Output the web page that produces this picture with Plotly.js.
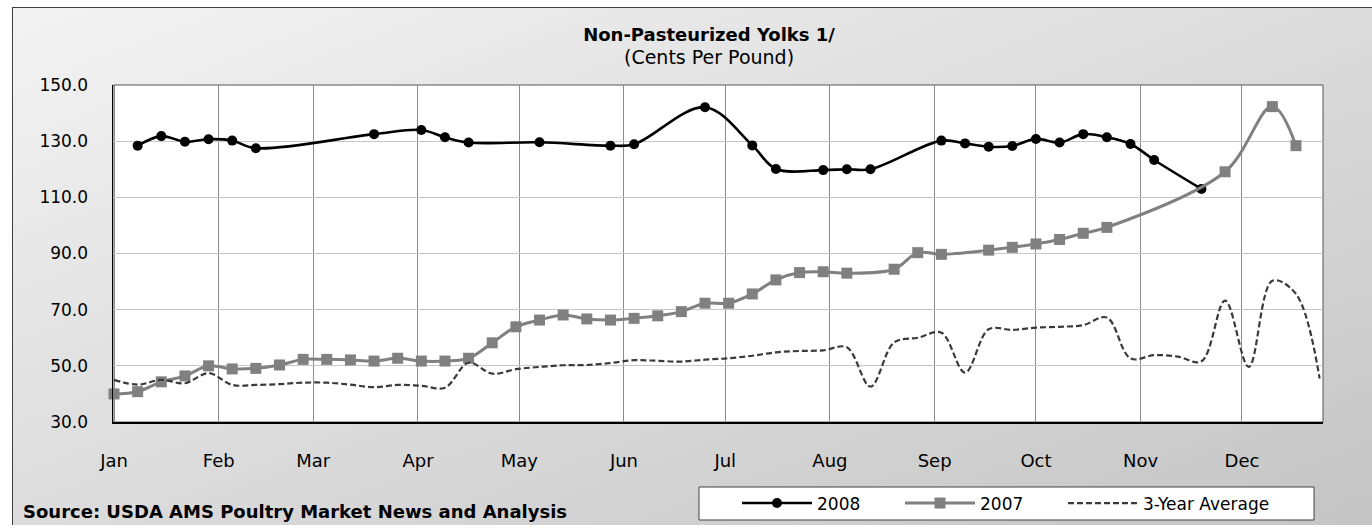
<!DOCTYPE html>
<html>
<head>
<meta charset="utf-8">
<script src="https://cdn.plot.ly/plotly-3.0.1.min.js"></script>
<style>
  html, body { margin: 0; padding: 0; background: #ffffff; overflow: hidden; }
  #frame {
    position: absolute; left: 12px; top: 7px; width: 1372px; height: 525px;
    border: 1px solid #3f3f3f;
    background: linear-gradient(to bottom right, #f3f3f3, #c4c4c4);
  }
  #chart { position: absolute; left: 0; top: 0; width: 1372px; height: 525px; }
</style>
</head>
<body>
<div id="frame"></div>
<div id="chart"></div>
<script>
// Day of year (week points), values in cents per pound
var days2008 = [7,14,21,28,35,42,77,91,98,105,126,147,154,175,189,196,210,217,224,245,252,259,266,273,280,287,294,301,308,322];
var vals2008 = [128.4,131.8,129.8,130.7,130.2,127.5,132.5,134.0,131.4,129.5,129.6,128.4,128.9,142.1,128.5,120.1,119.7,120.0,120.0,130.2,129.2,128.0,128.3,130.8,129.5,132.5,131.4,129.0,123.3,113.0];

var days2007 = [0,7,14,21,28,35,42,49,56,63,70,77,84,91,98,105,112,119,126,133,140,147,154,161,168,175,182,189,196,203,210,217,231,238,245,259,266,273,280,287,294,329,343,350];
var vals2007 = [40.0,40.8,44.3,46.4,50.0,48.9,49.1,50.3,52.3,52.3,52.1,51.7,52.7,51.7,51.7,52.7,58.2,63.9,66.3,68.1,66.7,66.3,66.9,67.8,69.3,72.3,72.3,75.6,80.6,83.2,83.5,83.0,84.4,90.3,89.7,91.2,92.2,93.4,95.0,97.2,99.3,119.1,142.3,128.4];

var daysAvg = [0,7,14,21,28,35,42,49,56,63,70,77,84,91,98,105,112,119,126,133,140,147,154,161,168,175,182,189,196,203,210,217,224,231,238,245,252,259,266,273,280,287,294,301,308,315,322,329,336,343,350,357];
var valsAvg = [45.0,43.3,45.0,43.8,47.4,43.2,43.2,43.5,44.0,44.0,43.3,42.4,43.2,42.9,42.2,51.1,47.2,48.8,49.6,50.2,50.3,51.0,52.0,51.8,51.5,52.2,52.7,53.6,54.8,55.3,55.5,56.6,42.6,58.3,60.0,61.8,47.6,63.0,62.8,63.6,63.9,64.5,67.2,52.6,53.8,53.3,51.6,73.2,49.6,80.3,75.6,45.5];

var monthStarts = [0,31,59,90,120,151,181,212,243,273,304,334];
var monthLabels = ['Jan','Feb','Mar','Apr','May','Jun','Jul','Aug','Sep','Oct','Nov','Dec'];
var yTicks = [30,50,70,90,110,130,150];

var FONT = 'DejaVu Sans';

var traces = [
  {
    x: days2008, y: vals2008, name: '2008', type: 'scatter', mode: 'lines+markers',
    line: {color: '#000000', width: 2.6, shape: 'spline', smoothing: 1},
    marker: {symbol: 'circle', size: 10, color: '#000000'},
    cliponaxis: false
  },
  {
    x: days2007, y: vals2007, name: '2007', type: 'scatter', mode: 'lines+markers',
    line: {color: '#808080', width: 3, shape: 'spline', smoothing: 1},
    marker: {symbol: 'square', size: 11, color: '#808080'},
    cliponaxis: false
  },
  {
    x: daysAvg, y: valsAvg, name: '3-Year Average', type: 'scatter', mode: 'lines',
    line: {color: '#3a3a3a', width: 2.2, dash: '6px,3px', shape: 'spline', smoothing: 1},
    legendwidth: 160
  }
];

var layout = {
  width: 1372, height: 525,
  margin: {l: 113, r: 49, t: 85, b: 103, pad: 0, autoexpand: false},
  paper_bgcolor: 'rgba(0,0,0,0)',
  plot_bgcolor: '#ffffff',
  font: {family: FONT, color: '#000000', size: 17},
  showlegend: true,
  title: {
    text: '<b>Non-Pasteurized Yolks 1/</b><br><span style="font-size:19px">(Cents Per Pound)</span>',
    font: {family: FONT, size: 18, color: '#000000'},
    x: 0.4926, xref: 'paper', xanchor: 'center',
    y: 0.922, yref: 'container', yanchor: 'top'
  },
  xaxis: {
    range: [-0.3, 358],
    tickmode: 'array', tickvals: monthStarts, ticktext: monthLabels,
    showgrid: true, gridcolor: '#8c8c8c', gridwidth: 1,
    zeroline: false,
    showline: true, linecolor: '#000000', linewidth: 1.5,
    ticks: 'outside', ticklen: 22, tickcolor: 'rgba(0,0,0,0)',
    tickfont: {family: FONT, size: 18, color: '#000000'}
  },
  yaxis: {
    range: [30, 150],
    tickmode: 'array', tickvals: yTicks,
    tickformat: '.1f',
    showgrid: true, gridcolor: '#c8c8c8', gridwidth: 1,
    zeroline: false,
    showline: true, linecolor: '#000000', linewidth: 1.5,
    ticks: 'outside', ticklen: 20, tickcolor: 'rgba(0,0,0,0)',
    tickfont: {family: FONT, size: 17, color: '#000000'}
  },
  legend: {
    orientation: 'h',
    x: 0.5157, xanchor: 'left', xref: 'paper',
    y: -0.2418, yanchor: 'middle', yref: 'paper',
    bgcolor: 'rgba(0,0,0,0)', borderwidth: 0,
    itemwidth: 70, entrywidth: 78, entrywidthmode: 'pixels',
    font: {family: FONT, size: 17, color: '#000000'},
    traceorder: 'normal'
  },
  shapes: [
    {type: 'rect', xref: 'paper', yref: 'paper', x0: 0, x1: 1, y0: 0, y1: 1,
     line: {color: '#555555', width: 1}, fillcolor: 'rgba(0,0,0,0)', layer: 'between'},
    {type: 'rect', xref: 'paper', yref: 'paper', x0: 0.4843, x1: 0.9926, y0: -0.2908, y1: -0.1929,
     line: {color: '#404040', width: 1}, fillcolor: '#ffffff', layer: 'above'}
  ],
  annotations: [
    {text: '<b>Source: USDA AMS Poultry Market News and Analysis</b>',
     xref: 'paper', yref: 'paper', x: -0.076, y: -0.267, xanchor: 'left', yanchor: 'middle',
     showarrow: false, font: {family: FONT, size: 18, color: '#000000'}}
  ]
};

Plotly.newPlot('chart', traces, layout, {displayModeBar: false, staticPlot: true});
</script>
</body>
</html>
